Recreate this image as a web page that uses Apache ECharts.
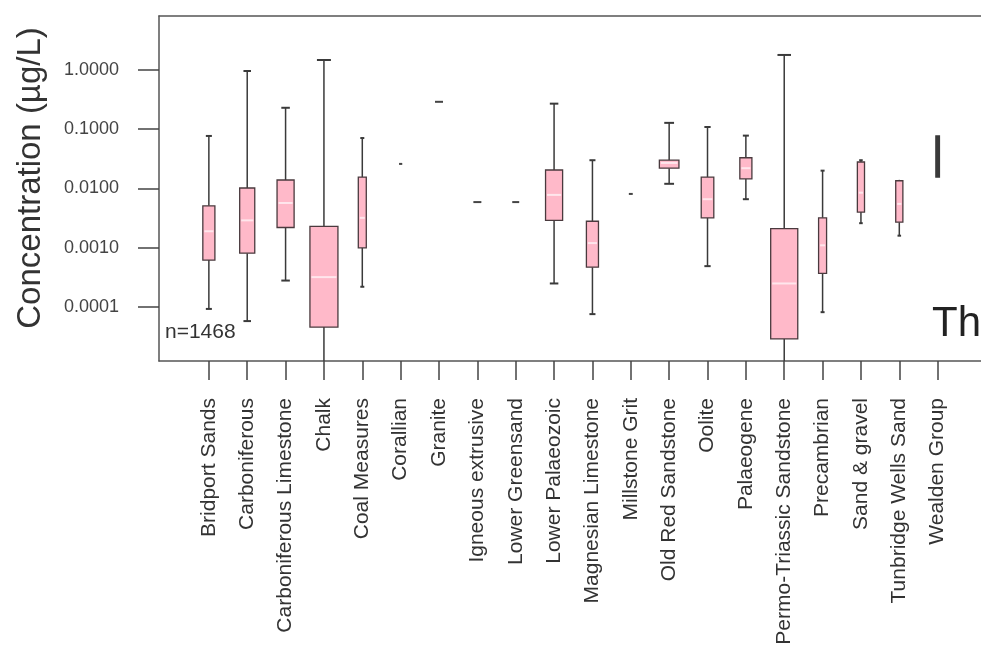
<!DOCTYPE html>
<html>
<head>
<meta charset="utf-8">
<script src="https://cdn.jsdelivr.net/npm/echarts@6/dist/echarts.min.js"></script>
<style>html,body{margin:0;padding:0;background:#fff;}#c{width:981px;height:654px;}</style>
</head>
<body>
<div id="c"></div>
<script>
const categories = ['Bridport Sands','Carboniferous','Carboniferous Limestone','Chalk','Coal Measures','Corallian','Granite','Igneous extrusive','Lower Greensand','Lower Palaeozoic','Magnesian Limestone','Millstone Grit','Old Red Sandstone','Oolite','Palaeogene','Permo-Triassic Sandstone','Precambrian','Sand & gravel','Tunbridge Wells Sand','Wealden Group'];
const minVals    = [0.000093,0.000058,0.00028,0.00001,0.00022,0.026,0.29,0.0059,0.0059,0.00025,0.000076,0.0081,0.012,0.00049,0.0066,0.00001,0.000082,0.0026,0.0016,0.0156];
const q1Vals     = [0.00062,0.00081,0.0022,0.000046,0.0010,0.026,0.29,0.0059,0.0059,0.0029,0.00047,0.0081,0.022,0.0032,0.0145,0.000029,0.00037,0.0040,0.0027,0.0156];
const medianVals = [0.0019,0.0029,0.0057,0.00032,0.0032,0.026,0.29,0.0059,0.0059,0.0078,0.0012,0.0081,0.027,0.0066,0.022,0.00025,0.0011,0.0085,0.0055,0.030];
const q3Vals     = [0.0051,0.0102,0.0139,0.0023,0.0156,0.026,0.29,0.0059,0.0059,0.0205,0.0028,0.0081,0.030,0.0156,0.033,0.0021,0.0032,0.028,0.0135,0.077];
const maxVals    = [0.077,0.96,0.23,1.47,0.071,0.026,0.29,0.0059,0.0059,0.27,0.030,0.0081,0.128,0.109,0.078,1.79,0.020,0.030,0.0140,0.077];
const counts     = [57,89,114,307,25,4,25,25,19,114,57,6,150,62,57,287,25,20,20,5];
const yTickValues = [0.0001,0.001,0.01,0.1,1];

const totalN = counts.reduce((a,b)=>a+b,0);
const maxN = Math.max.apply(null, counts);
const MAX_BOX_W = 28;
const FONT = 'Liberation Sans, Arial, sans-serif';
const lg = v => Math.log10(v);
const catIdx = categories.map((c,i)=>i);

const seriesData = categories.map((c,i)=>[i,minVals[i],q1Vals[i],medianVals[i],q3Vals[i],maxVals[i],counts[i]]);

function renderItem(params, api){
  const i = api.value(0);
  const cs = params.coordSys;
  const bottom = cs.y + cs.height;
  const x = api.coord([i, 0])[0];
  const Y = v => api.coord([0, lg(v)])[1];
  const w = MAX_BOX_W * Math.sqrt(api.value(6) / maxN);
  const yMin = Math.min(Y(api.value(1)), bottom);
  const yQ1 = Math.min(Y(api.value(2)), bottom);
  const yMed = Y(api.value(3));
  const yQ3 = Y(api.value(4));
  const yMax = Y(api.value(5));
  const lineStyle = {stroke:'#3a3a3a', lineWidth:1.5};
  const children = [];
  children.push({type:'line', shape:{x1:x,y1:yQ3,x2:x,y2:yMax}, style:lineStyle});
  children.push({type:'line', shape:{x1:x,y1:yQ1,x2:x,y2:yMin}, style:lineStyle});
  const cw = w*0.5;
  if (yMax < yQ3 - 1.5) children.push({type:'line', shape:{x1:x-cw/2,y1:yMax,x2:x+cw/2,y2:yMax}, style:{stroke:'#3a3a3a',lineWidth:2}});
  if (yMin > yQ1 + 1.5 && yMin < bottom) children.push({type:'line', shape:{x1:x-cw/2,y1:yMin,x2:x+cw/2,y2:yMin}, style:{stroke:'#3a3a3a',lineWidth:2}});
  if (yQ1 - yQ3 > 0.5) {
    const narrow = w < 5;
    children.push({type:'rect', shape:{x:x-w/2,y:yQ3,width:w,height:yQ1-yQ3}, style:{fill:narrow?'#3a3a3a':'#ffb9c9',stroke:narrow?'#3a3a3a':'#4a3a3e',lineWidth:1.3}});
    if (w > 5) children.push({type:'line', shape:{x1:x-w/2+1.5,y1:yMed,x2:x+w/2-1.5,y2:yMed}, style:{stroke:'#ffe6ec',lineWidth:2}});
  } else {
    children.push({type:'line', shape:{x1:x-w/2,y1:yMed,x2:x+w/2,y2:yMed}, style:{stroke:'#444',lineWidth:2}});
  }
  return {type:'group', children};
}

const chart = echarts.init(document.getElementById('c'));
chart.setOption({
  animation:false,
  backgroundColor:'#fff',
  grid:{left:159, top:16, right:0, bottom:293, show:false, containLabel:false},
  xAxis:[{
    type:'value', min:-1.3, max:20.13,
    axisLine:{show:true, onZero:false, lineStyle:{color:'#555', width:1.5}},
    splitLine:{show:false},
    axisTick:{show:true, customValues:catIdx, length:19, lineStyle:{color:'#444', width:1.5}},
    axisLabel:{customValues:catIdx, rotate:90, margin:37, fontSize:21, color:'#333', fontFamily:FONT, formatter:v=>categories[Math.round(v)]}
  },{
    type:'value', position:'top', min:-1.3, max:20.13,
    axisLine:{show:true, onZero:false, lineStyle:{color:'#555', width:1.5}},
    axisTick:{show:false}, axisLabel:{show:false}, splitLine:{show:false}
  }],
  yAxis:{
    type:'value', min:-4.91, max:0.91,
    axisLine:{show:true, onZero:false, lineStyle:{color:'#555', width:1.5}},
    splitLine:{show:false},
    axisTick:{show:true, customValues:yTickValues.map(lg), length:21, lineStyle:{color:'#444', width:1.5}},
    axisLabel:{customValues:yTickValues.map(lg), margin:40, fontSize:18, color:'#444', fontFamily:FONT, formatter:v=>Math.pow(10,v).toFixed(4)}
  },
  graphic:[
    {type:'text', x:31, y:178, rotation:Math.PI/2, style:{text:'Concentration (µg/L)', fontSize:33, fill:'#333', fontFamily:FONT, align:'center', verticalAlign:'middle'}},
    {type:'text', left:165, top:322, style:{text:'n='+totalN, fontSize:21, fill:'#333', fontFamily:FONT}},
    {type:'text', left:932, top:303, style:{text:'Th', fontSize:42, fill:'#222', fontFamily:FONT}}
  ],
  series:[{type:'custom', renderItem, data:seriesData, encode:{x:0, y:[1,2,3,4,5]}, clip:false}]
});
</script>
</body>
</html>
